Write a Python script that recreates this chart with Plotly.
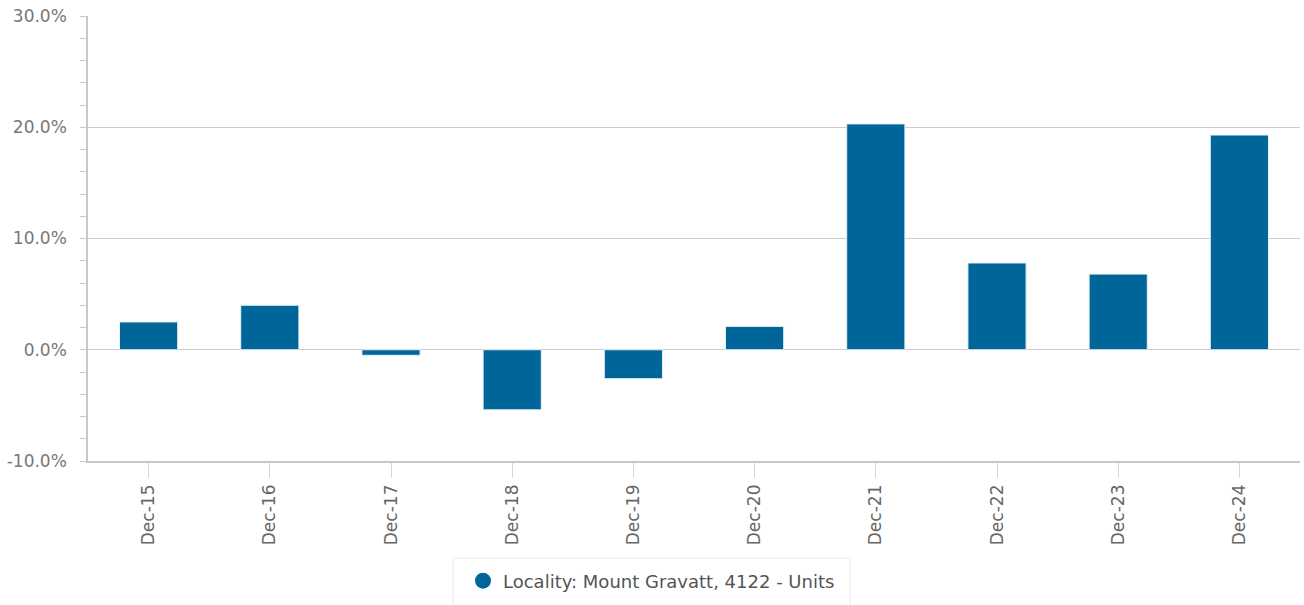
import plotly.graph_objects as go

categories = ["Dec-15", "Dec-16", "Dec-17", "Dec-18", "Dec-19",
              "Dec-20", "Dec-21", "Dec-22", "Dec-23", "Dec-24"]
values = [2.5, 4.0, -0.5, -5.4, -2.6, 2.1, 20.3, 7.8, 6.8, 19.3]
series_name = "Locality: Mount Gravatt, 4122 - Units"
y_ticks = [-10, 0, 10, 20, 30]
y_tick_labels = ["-10.0%", "0.0%", "10.0%", "20.0%", "30.0%"]

color = "#006699"
font = "DejaVu Sans, Verdana, sans-serif"

fig = go.Figure()
fig.add_trace(go.Bar(
    x=categories, y=values, name=series_name,
    marker=dict(color=color, line=dict(color="#e6f0f7", width=1)),
    width=0.48, showlegend=False,
))
fig.add_trace(go.Scatter(
    x=[None], y=[None], mode="markers", name=series_name,
    marker=dict(color=color, size=18, symbol="circle"),
))

# legend frame (layout decoration)
fig.add_shape(type="rect", xref="paper", yref="paper",
              x0=(453 - 88) / 1212, x1=(850 - 88) / 1212,
              y0=(461 - 558) / 445, y1=(461 - 606) / 445,
              line=dict(color="#e8e8e8", width=1), fillcolor="rgba(0,0,0,0)",
              layer="below")

fig.update_layout(
    width=1304, height=605,
    margin=dict(l=88, r=4, t=16, b=144),
    plot_bgcolor="#ffffff", paper_bgcolor="#ffffff",
    font=dict(family=font, size=17, color="#666666"),
    legend=dict(
        orientation="h", x=(463 - 88) / 1212, xanchor="left",
        yref="container", y=1 - 581 / 605, yanchor="middle",
        borderwidth=0, bgcolor="rgba(0,0,0,0)",
        font=dict(family=font, size=18, color="#555555"),
        itemwidth=30,
    ),
    xaxis=dict(
        type="category", automargin=False,
        showline=True, linecolor="#c8c8c8", linewidth=1.5,
        ticks="outside", ticklen=15, tickcolor="#ccd6eb", tickwidth=1,
        tickangle=-90, showgrid=False,
        tickfont=dict(family=font, size=17, color="#666666"),
    ),
    yaxis=dict(
        range=[-10, 30], tickvals=y_ticks, ticktext=y_tick_labels,
        automargin=False,
        showline=True, linecolor="#c8c8c8", linewidth=1.5,
        showgrid=True, gridcolor="#cccccc", gridwidth=1,
        zeroline=True, zerolinecolor="#cccccc", zerolinewidth=1,
        ticks="", ticklabelstandoff=16,
        tickfont=dict(family=font, size=17, color="#777777"),
        minor=dict(dtick=2, ticks="outside", ticklen=6, tickcolor="#c8c8c8",
                   tickwidth=1, showgrid=False),
    ),
    bargap=0.52,
)

fig.write_html(
    "out.html",
    config={"displayModeBar": False},
    post_script="document.body.style.margin='0';document.body.style.overflow='hidden';",
)
